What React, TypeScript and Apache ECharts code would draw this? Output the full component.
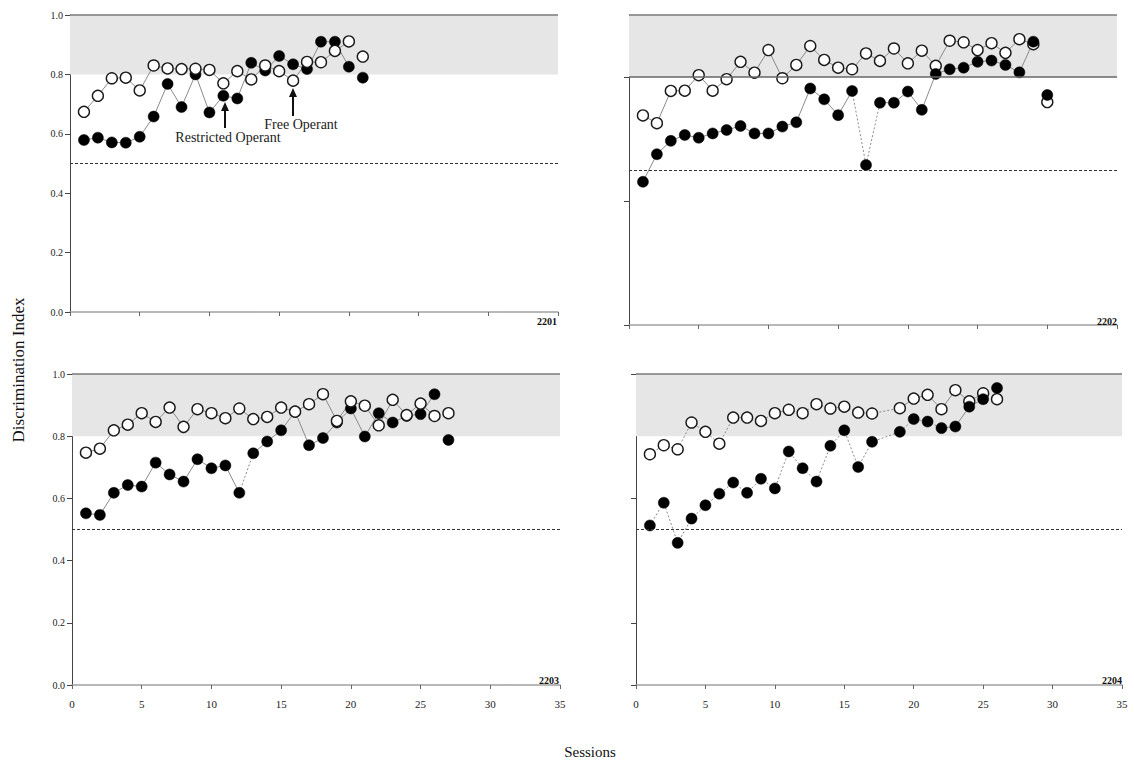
import React, { useEffect, useRef } from "react";
import * as echarts from "echarts";

const FONT = "'Liberation Serif', 'Times New Roman', serif";

// ---------- data ----------
const xTicks = [0, 5, 10, 15, 20, 25, 30, 35];

const s2201 = [1, 2, 3, 4, 5, 6, 7, 8, 9, 10, 11, 12, 13, 14, 15, 16, 17, 18, 19, 20, 21];
const free2201 = [0.674, 0.728, 0.787, 0.789, 0.746, 0.83, 0.82, 0.818, 0.819, 0.815, 0.77, 0.811, 0.783, 0.83, 0.811, 0.779, 0.842, 0.841, 0.879, 0.911, 0.86];
const restr2201 = [0.579, 0.587, 0.571, 0.57, 0.59, 0.658, 0.768, 0.69, 0.8, 0.672, 0.728, 0.719, 0.839, 0.813, 0.862, 0.834, 0.818, 0.91, 0.91, 0.826, 0.789];

const s2202 = [1, 2, 3, 4, 5, 6, 7, 8, 9, 10, 11, 12, 13, 14, 15, 16, 17, 18, 19, 20, 21, 22, 23, 24, 25, 26, 27, 28, 29, 30];
const free2202 = [0.676, 0.651, 0.755, 0.756, 0.806, 0.756, 0.793, 0.849, 0.814, 0.887, 0.796, 0.839, 0.9, 0.855, 0.83, 0.825, 0.876, 0.852, 0.892, 0.844, 0.885, 0.836, 0.917, 0.912, 0.887, 0.909, 0.878, 0.922, 0.906, 0.719];
const restr2202 = [0.462, 0.551, 0.594, 0.613, 0.604, 0.618, 0.629, 0.642, 0.618, 0.618, 0.64, 0.654, 0.763, 0.728, 0.677, 0.755, 0.516, 0.717, 0.717, 0.753, 0.694, 0.81, 0.825, 0.83, 0.849, 0.853, 0.839, 0.815, 0.914, 0.742];

const s2203 = [1, 2, 3, 4, 5, 6, 7, 8, 9, 10, 11, 12, 13, 14, 15, 16, 17, 18, 19, 20, 21, 22, 23, 24, 25, 26, 27];
const free2203 = [0.747, 0.76, 0.819, 0.837, 0.874, 0.846, 0.892, 0.83, 0.887, 0.874, 0.858, 0.889, 0.855, 0.862, 0.892, 0.879, 0.903, 0.935, 0.849, 0.912, 0.898, 0.835, 0.917, 0.868, 0.905, 0.865, 0.874];
const restr2203 = [0.552, 0.547, 0.618, 0.643, 0.638, 0.715, 0.677, 0.654, 0.726, 0.697, 0.706, 0.618, 0.745, 0.783, 0.819, 0.879, 0.771, 0.794, 0.844, 0.889, 0.799, 0.874, 0.844, 0.865, 0.871, 0.935, 0.788];

const s2204 = [1, 2, 3, 4, 5, 6, 7, 8, 9, 10, 11, 12, 13, 14, 15, 16, 17, 19, 20, 21, 22, 23, 24, 25, 26];
const free2204 = [0.742, 0.771, 0.758, 0.844, 0.814, 0.776, 0.86, 0.86, 0.849, 0.874, 0.885, 0.874, 0.903, 0.889, 0.895, 0.876, 0.873, 0.89, 0.921, 0.933, 0.887, 0.948, 0.912, 0.938, 0.919];
const restr2204 = [0.513, 0.586, 0.457, 0.535, 0.578, 0.615, 0.651, 0.618, 0.663, 0.632, 0.751, 0.697, 0.654, 0.769, 0.819, 0.701, 0.782, 0.814, 0.855, 0.847, 0.826, 0.831, 0.895, 0.919, 0.955];

// line segments (by session number) and their dash style
type Seg = { from: number; to: number; dash: boolean };

const panels = [
  {
    name: "2201", sessions: s2201, free: free2201, restr: restr2201,
    grid: { left: 70, top: 15, width: 488, height: 297 }, xOffset: 23, yOffset: 3,
    showX: false, showY: true, yTicks: undefined as number[] | undefined, line08: false,
    freeSegs: [{ from: 1, to: 20, dash: false }] as Seg[],
    restrSegs: [{ from: 1, to: 20, dash: false }] as Seg[],
    openOnTop: true, labelPos: [557, 321],
  },
  {
    name: "2202", sessions: s2202, free: free2202, restr: restr2202,
    grid: { left: 629, top: 15, width: 488, height: 310 }, xOffset: 11, yOffset: 2,
    showX: false, showY: false, yTicks: [0, 0.4, 0.8] as number[] | undefined, line08: true,
    freeSegs: [{ from: 1, to: 29, dash: false }] as Seg[],
    restrSegs: [
      { from: 1, to: 16, dash: false },
      { from: 16, to: 18, dash: true },
      { from: 18, to: 29, dash: false },
    ] as Seg[],
    openOnTop: false, labelPos: [1117, 321],
  },
  {
    name: "2203", sessions: s2203, free: free2203, restr: restr2203,
    grid: { left: 72, top: 374, width: 488, height: 311 }, xOffset: 6, yOffset: 3,
    showX: true, showY: true, yTicks: undefined as number[] | undefined, line08: false,
    freeSegs: [{ from: 1, to: 26, dash: false }] as Seg[],
    restrSegs: [
      { from: 1, to: 12, dash: false },
      { from: 12, to: 13, dash: true },
      { from: 13, to: 26, dash: false },
    ] as Seg[],
    openOnTop: true, labelPos: [559, 680],
  },
  {
    name: "2204", sessions: s2204, free: free2204, restr: restr2204,
    grid: { left: 636, top: 374, width: 486, height: 311 }, xOffset: 6, yOffset: 10,
    showX: true, showY: false, yTicks: [0, 0.2, 0.6, 1.0] as number[] | undefined, line08: false,
    freeSegs: [
      { from: 1, to: 19, dash: true },
      { from: 19, to: 25, dash: false },
    ] as Seg[],
    restrSegs: [
      { from: 1, to: 22, dash: true },
      { from: 22, to: 25, dash: false },
    ] as Seg[],
    openOnTop: false, labelPos: [1122, 680],
  },
];

function buildOption() {
  const grid: any[] = [];
  const xAxis: any[] = [];
  const yAxis: any[] = [];
  const series: any[] = [];
  const graphic: any[] = [];

  panels.forEach((p, i) => {
    grid.push({ ...p.grid });
    xAxis.push({
      gridIndex: i, type: "value", min: 0, max: 35, interval: 5, offset: p.xOffset,
      axisLine: { show: true, lineStyle: { color: "#a0a0a0", width: 1.5 } },
      axisTick: { show: true, length: 4, lineStyle: { color: "#666" } },
      axisLabel: {
        show: p.showX, margin: 7, fontFamily: FONT, fontSize: 11, color: "#222",
        customValues: xTicks,
      },
      splitLine: { show: false },
    });
    const yTick: any = { show: true, length: 5, lineStyle: { color: "#444" } };
    if (p.yTicks) yTick.customValues = p.yTicks;
    yAxis.push({
      gridIndex: i, type: "value", min: 0, max: 1, interval: 0.2, offset: p.yOffset,
      axisLine: { show: true, lineStyle: { color: "#444", width: 1 } },
      axisTick: yTick,
      axisLabel: {
        show: p.showY, margin: 4, fontFamily: FONT, fontSize: 10, color: "#222",
        formatter: (v: number) => v.toFixed(1),
      },
      splitLine: { show: false },
    });

    // reference band and lines
    const mlData: any[] = [
      { yAxis: 1, lineStyle: { type: "solid", color: "#7a7a7a", width: 1.5 } },
      { yAxis: 0.5, lineStyle: { type: [3, 2], color: "#333", width: 1 } },
    ];
    if (p.line08) mlData.push({ yAxis: 0.8, lineStyle: { type: "solid", color: "#666", width: 1.5 } });
    series.push({
      type: "line", xAxisIndex: i, yAxisIndex: i, data: [], z: 1, silent: true,
      markArea: {
        silent: true, itemStyle: { color: "#e6e6e6" },
        data: [[{ yAxis: 0.8 }, { yAxis: 1 }]],
      },
      markLine: { silent: true, symbol: "none", label: { show: false }, data: mlData },
    });

    const addGroup = (vals: number[], segs: Seg[], open: boolean) => {
      const pts = p.sessions.map((s, k) => [s, vals[k]]);
      segs.forEach((sg) => {
        series.push({
          type: "line", xAxisIndex: i, yAxisIndex: i, showSymbol: false, symbol: "none",
          z: 2, silent: true,
          lineStyle: { color: "#8a8a8a", width: 1, type: sg.dash ? [2, 2] : "solid" },
          data: pts.filter((d) => d[0] >= sg.from && d[0] <= sg.to),
        });
      });
      const top = open === p.openOnTop;
      series.push({
        type: "scatter", xAxisIndex: i, yAxisIndex: i, symbol: "circle", symbolSize: 11,
        z: top ? 4 : 3,
        itemStyle: open
          ? { color: "#ffffff", borderColor: "#1a1a1a", borderWidth: 1.4, opacity: 1 }
          : { color: "#000000", borderColor: "#000000", borderWidth: 0.5, opacity: 1 },
        data: pts,
      });
    };
    addGroup(p.restr, p.restrSegs, false);
    addGroup(p.free, p.freeSegs, true);

    graphic.push({
      type: "text", x: p.labelPos[0], y: p.labelPos[1], z: 10,
      style: {
        text: p.name, fontFamily: FONT, fontSize: 10, fontWeight: "bold", fill: "#111",
        textAlign: "right", textVerticalAlign: "middle",
      },
    });
  });

  // axis titles
  graphic.push({
    type: "text", x: 18, y: 370, rotation: Math.PI / 2,
    style: {
      text: "Discrimination Index", fontFamily: FONT, fontSize: 17, fill: "#111",
      textAlign: "center", textVerticalAlign: "middle",
    },
  });
  graphic.push({
    type: "text", x: 590, y: 752,
    style: {
      text: "Sessions", fontFamily: FONT, fontSize: 15, fill: "#111",
      textAlign: "center", textVerticalAlign: "middle",
    },
  });

  // annotations with arrows (panel 2201)
  const arrow = (x: number, tipY: number, endY: number) => {
    graphic.push({
      type: "line", shape: { x1: x, y1: tipY + 7, x2: x, y2: endY },
      style: { stroke: "#111", lineWidth: 2 },
    });
    graphic.push({
      type: "polygon",
      shape: { points: [[x - 4, tipY + 9], [x + 4, tipY + 9], [x, tipY]] },
      style: { fill: "#111" },
    });
  };
  arrow(225, 102, 128);
  arrow(293, 88, 116);
  graphic.push({
    type: "text", x: 228, y: 137,
    style: {
      text: "Restricted Operant", fontFamily: FONT, fontSize: 14, fill: "#222",
      textAlign: "center", textVerticalAlign: "middle",
    },
  });
  graphic.push({
    type: "text", x: 301, y: 124,
    style: {
      text: "Free Operant", fontFamily: FONT, fontSize: 14, fill: "#222",
      textAlign: "center", textVerticalAlign: "middle",
    },
  });

  return {
    animation: false,
    backgroundColor: "#ffffff",
    textStyle: { fontFamily: FONT },
    grid, xAxis, yAxis, series, graphic,
  };
}

export default function App() {
  const ref = useRef<HTMLDivElement>(null);
  useEffect(() => {
    if (!ref.current) return;
    const chart = echarts.init(ref.current, undefined, { renderer: "svg" });
    chart.setOption(buildOption() as any);
    return () => chart.dispose();
  }, []);
  return (
    <div
      ref={ref}
      style={{ position: "fixed", left: 0, top: 0, width: 1134, height: 765, background: "#fff" }}
    />
  );
}
